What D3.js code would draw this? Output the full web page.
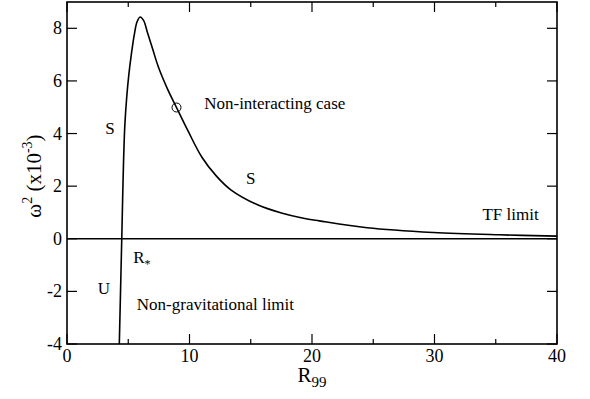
<!DOCTYPE html>
<html>
<head>
<meta charset="utf-8">
<script src="https://cdn.jsdelivr.net/npm/d3@7"></script>
<style>
  body { margin: 0; background: #fff; }
  text { font-family: "Liberation Serif", "Times New Roman", serif; fill: #000; }
</style>
</head>
<body>
<div id="chart"></div>
<script>
// curve
var R99 = [4.27, 4.37, 4.47, 4.54, 4.62, 4.72, 4.87, 5.05, 5.25, 5.49, 5.72, 5.97, 6.25, 6.56, 7.0, 7.46, 8.2, 8.94, 9.9, 11.0, 12.2, 13.4, 15.6, 17.5, 19.3, 20.6, 24.5, 29.9, 35.3, 40];
var omega2 = [-4, -2, 0, 1.47, 3.0, 4.3, 5.35, 6.25, 7.0, 7.75, 8.25, 8.43, 8.3, 7.85, 7.2, 6.53, 5.7, 4.99, 4.08, 3.11, 2.38, 1.85, 1.28, 0.98, 0.78, 0.68, 0.42, 0.24, 0.15, 0.10];

var marked = [{r: 8.94, w: 4.99}];
var xTicks = [0, 10, 20, 30, 40];
var xMinor = [5, 15, 25, 35];
var yTicks = [-4, -2, 0, 2, 4, 6, 8];

var labels = [
  {r: 3.5, w: 4.0, text: "S", anchor: "middle"},
  {r: 15.0, w: 2.1, text: "S", anchor: "middle"},
  {r: 11.2, w: 4.95, text: "Non-interacting case", anchor: "start"},
  {r: 38.5, w: 0.7, text: "TF limit", anchor: "end"},
  {r: 2.5, w: -2.1, text: "U", anchor: "start"},
  {r: 5.7, w: -2.7, text: "Non-gravitational limit", anchor: "start"}
];

var width = 590, height = 399;
var pLeft = 67, pRight = 557, pTop = 2, pBottom = 344;
var serif = "'Liberation Serif', 'Times New Roman', serif";

var svg = d3.select("#chart").append("svg")
    .attr("width", width)
    .attr("height", height)
    .attr("font-family", serif);

var x = d3.scaleLinear().domain([0, 40]).range([pLeft, pRight]);
var y = d3.scaleLinear().domain([-4, 9]).range([pBottom, pTop]);

// frame
svg.append("rect")
    .attr("x", pLeft).attr("y", pTop)
    .attr("width", pRight - pLeft).attr("height", pBottom - pTop)
    .attr("fill", "none").attr("stroke", "#000").attr("stroke-width", 1.6);

// ticks, inward on all four sides
var tk = svg.append("g").attr("stroke", "#000").attr("stroke-width", 1.2);
xTicks.forEach(function(v) {
  tk.append("line").attr("x1", x(v)).attr("x2", x(v)).attr("y1", pBottom).attr("y2", pBottom - 10);
  tk.append("line").attr("x1", x(v)).attr("x2", x(v)).attr("y1", pTop).attr("y2", pTop + 10);
});
xMinor.forEach(function(v) {
  tk.append("line").attr("x1", x(v)).attr("x2", x(v)).attr("y1", pBottom).attr("y2", pBottom - 5);
  tk.append("line").attr("x1", x(v)).attr("x2", x(v)).attr("y1", pTop).attr("y2", pTop + 5);
});
yTicks.forEach(function(v) {
  tk.append("line").attr("x1", pLeft).attr("x2", pLeft + 10).attr("y1", y(v)).attr("y2", y(v));
  tk.append("line").attr("x1", pRight).attr("x2", pRight - 10).attr("y1", y(v)).attr("y2", y(v));
});

svg.selectAll(".xl").data(xTicks).enter().append("text")
    .attr("x", function(d) { return x(d); })
    .attr("y", pBottom + 18)
    .attr("text-anchor", "middle")
    .style("font-size", "18px")
    .text(function(d) { return d; });

svg.selectAll(".yl").data(yTicks).enter().append("text")
    .attr("x", pLeft - 5)
    .attr("y", function(d) { return y(d) + 6; })
    .attr("text-anchor", "end")
    .style("font-size", "18px")
    .text(function(d) { return d; });

// zero line
svg.append("line")
    .attr("x1", pLeft).attr("x2", pRight)
    .attr("y1", y(0)).attr("y2", y(0))
    .attr("stroke", "#000").attr("stroke-width", 1.4);

// curve
var line = d3.line()
    .x(function(d, i) { return x(R99[i]); })
    .y(function(d) { return y(d); })
    .curve(d3.curveCatmullRom.alpha(0.5));

svg.append("path")
    .datum(omega2)
    .attr("d", line)
    .attr("fill", "none")
    .attr("stroke", "#000")
    .attr("stroke-width", 1.6);

svg.selectAll(".pt").data(marked).enter().append("circle")
    .attr("cx", function(d) { return x(d.r); })
    .attr("cy", function(d) { return y(d.w); })
    .attr("r", 4.5)
    .attr("fill", "none")
    .attr("stroke", "#000")
    .attr("stroke-width", 1);

svg.selectAll(".lab").data(labels).enter().append("text")
    .attr("x", function(d) { return x(d.r); })
    .attr("y", function(d) { return y(d.w); })
    .attr("text-anchor", function(d) { return d.anchor; })
    .style("font-size", "17px")
    .text(function(d) { return d.text; });

// R* label
var rs = svg.append("text")
    .attr("x", x(5.4)).attr("y", y(-0.93))
    .style("font-size", "17px");
rs.append("tspan").text("R");
rs.append("tspan").attr("dy", 5).style("font-size", "12px").text("*");

// axis titles
var xt = svg.append("text")
    .attr("x", 312).attr("y", 382)
    .attr("text-anchor", "middle")
    .style("font-size", "21px");
xt.append("tspan").text("R");
xt.append("tspan").attr("dy", 5).style("font-size", "15px").text("99");

var yt = svg.append("text")
    .attr("transform", "translate(41,176) rotate(-90)")
    .attr("text-anchor", "middle")
    .style("font-size", "21px");
yt.append("tspan").text("ω");
yt.append("tspan").attr("dy", -9).style("font-size", "14px").text("2");
yt.append("tspan").attr("dy", 9).text(" (x10");
yt.append("tspan").attr("dy", -9).style("font-size", "14px").text("-3");
yt.append("tspan").attr("dy", 9).text(")");
</script>
</body>
</html>
